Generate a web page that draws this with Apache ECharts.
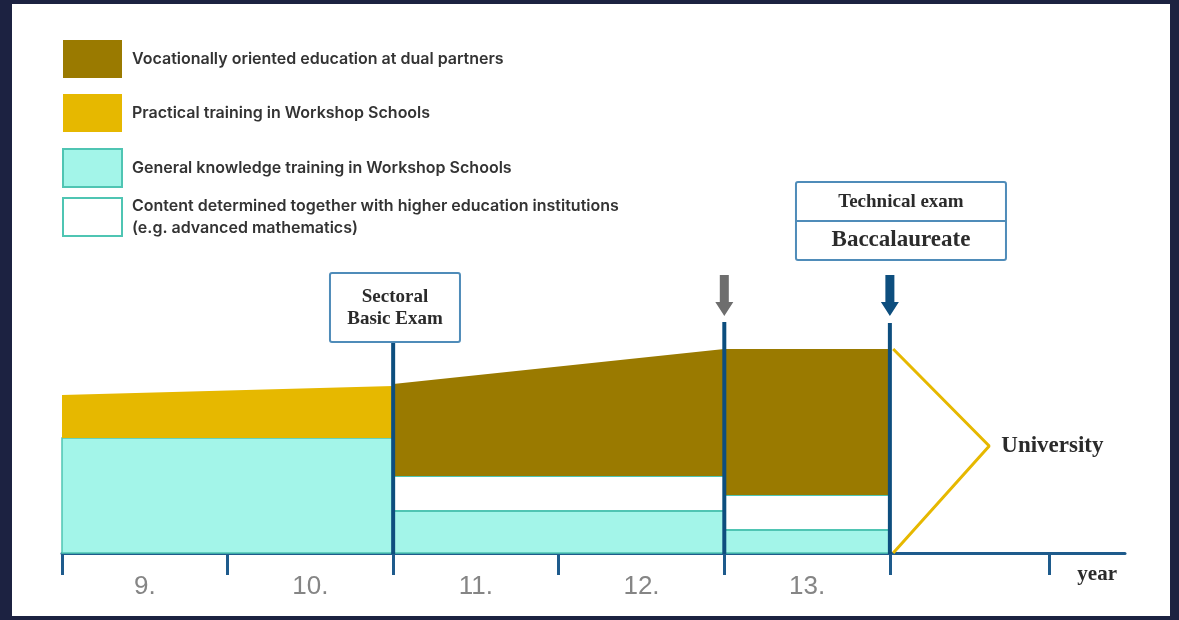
<!DOCTYPE html>
<html>
<head>
<meta charset="utf-8">
<script src="https://cdn.jsdelivr.net/npm/echarts@6/dist/echarts.min.js"></script>
<style>
  html, body { margin: 0; padding: 0; width: 1179px; height: 620px; background: #1c2241; overflow: hidden; }
  #panel { position: absolute; left: 12px; top: 4px; width: 1158px; height: 612px; background: #ffffff; }
  #chart { position: absolute; left: 0; top: 0; width: 1179px; height: 620px; }
</style>
</head>
<body>
<div id="panel"></div>
<div id="chart"></div>
<script>
// ---- data ----
const yearLabels = ['9.', '10.', '11.', '12.', '13.'];
const yearLabelPositions = [0.5, 1.5, 2.5, 3.5, 4.5];
const yearBoundaries = [0, 1, 2, 3, 4, 5, 5.96];

const seriesNames = [
  'Vocationally oriented education at dual partners',
  'Practical training in Workshop Schools',
  'General knowledge training in Workshop Schools',
  'Content determined together with higher education institutions (e.g. advanced mathematics)'
];
// segments: [xStart, xEnd, bottomStart, bottomEnd, topStart, topEnd]
const dualPartners = [[2, 4, 77, 77, 169, 204], [4, 5, 58, 58, 204, 204]];
const workshopPractical = [[0, 2, 115, 115, 158, 167]];
const workshopGeneral = [[0, 2, 0, 0, 115, 115], [2, 4, 0, 0, 42, 42], [4, 5, 0, 0, 23, 23]];
const higherEdContent = [[2, 4, 42, 42, 77, 77], [4, 5, 23, 23, 58, 58]];

const examLines = [[2, 213], [4, 231], [5, 230]];   // [year position, line top]
const examArrows = [[4, 278], [5, 278]];            // [year position, arrow top]
const examBoxes = [[2.011, 211], [5.067, 293]];     // [box centre, box bottom]
const examBoxTexts = [['Sectoral', 'Basic Exam'], ['Technical exam', 'Baccalaureate']];
const universityPath = [[5.02, 204], [5.6, 107], [5.02, 0]];
const universityLabel = 'University';

// ---- styles ----
const C = {
  brown: '#9a7a00', yellow: '#e6b800', cyan: '#a3f5e9', teal: '#4fc5b3',
  navy: '#0d4e7e', axis: '#1e5b8c', gray: '#6e6e6e', boxBorder: '#4f8cb9', text: '#2b2b2b'
};
const serif = '"Liberation Serif", "DejaVu Serif", serif';

function segRender(fill, stroke, lw) {
  return function (params, api) {
    const x0 = api.value(0), x1 = api.value(1);
    const pts = [
      api.coord([x0, api.value(2)]), api.coord([x1, api.value(3)]),
      api.coord([x1, api.value(5)]), api.coord([x0, api.value(4)])
    ];
    return { type: 'polygon', shape: { points: pts },
      style: { fill: fill, stroke: stroke || null, lineWidth: lw || 0 } };
  };
}
function segSeries(name, data, fill, stroke, lw, z) {
  return { type: 'custom', name: name, data: data, z: z,
    itemStyle: { color: fill }, renderItem: segRender(fill, stroke, lw), silent: true };
}

const legendText = { fontFamily: 'Inter, "Noto Sans", sans-serif', fontSize: 16, fontWeight: 600,
  color: '#333333', lineHeight: 22, padding: [0, 0, 0, 5] };
const legendItems = [
  { name: seriesNames[0], icon: 'rect', itemStyle: { color: C.brown, borderWidth: 0 } },
  { name: seriesNames[1], icon: 'rect', itemStyle: { color: C.yellow, borderWidth: 0 } },
  { name: seriesNames[2], icon: 'rect', itemStyle: { color: C.cyan, borderColor: C.teal, borderWidth: 2 } },
  { name: seriesNames[3], icon: 'rect', itemStyle: { color: '#ffffff', borderColor: C.teal, borderWidth: 2 } }
];

const chart = echarts.init(document.getElementById('chart'));
chart.setOption({
  backgroundColor: 'transparent',
  animation: false,
  grid: { left: 62, right: 54, top: 153, bottom: 67 },
  legend: [
    { orient: 'vertical', left: 62, top: 40, padding: 0, itemWidth: 59, itemHeight: 38, itemGap: 16,
      selectedMode: false, textStyle: legendText, data: legendItems.slice(0, 3) },
    { orient: 'vertical', left: 62, top: 195, padding: 0, itemWidth: 59, itemHeight: 38, itemGap: 16,
      selectedMode: false, textStyle: legendText, data: legendItems.slice(3),
      formatter: function (n) { return n.replace(' (e.g.', '\n(e.g.'); } }
  ],
  xAxis: {
    type: 'value', min: 0, max: 6.42,
    splitLine: { show: false },
    axisLine: { show: true, lineStyle: { color: C.axis, width: 3 } },
    axisTick: { show: true, length: 22, customValues: yearBoundaries, lineStyle: { color: C.axis, width: 3 } },
    axisLabel: {
      customValues: yearLabelPositions, margin: 21,
      fontFamily: '"Liberation Sans", Arial, sans-serif', fontSize: 26, color: '#858585',
      formatter: function (v) {
        const i = yearLabelPositions.findIndex(function (p) { return Math.abs(p - v) < 1e-6; });
        return i >= 0 ? yearLabels[i] : '';
      }
    },
    name: 'year', nameLocation: 'end', nameGap: -8,
    nameTextStyle: { fontFamily: serif, fontWeight: 'bold', fontSize: 21, color: C.text,
      align: 'right', verticalAlign: 'top', padding: [11, 0, 0, 0] }
  },
  yAxis: { type: 'value', min: 0, max: 400, show: false },
  series: [
    segSeries(seriesNames[2], workshopGeneral, C.cyan, C.teal, 1.5, 2),
    segSeries(seriesNames[3], higherEdContent, '#ffffff', C.teal, 2, 2),
    segSeries(seriesNames[1], workshopPractical, C.yellow, null, 0, 2),
    segSeries(seriesNames[0], dualPartners, C.brown, null, 0, 2),
    {
      type: 'line', name: 'university', data: universityPath.map(function (p, i) {
        return i === 1 ? { value: p, label: { show: true, position: 'right', distance: 12,
          formatter: universityLabel, fontFamily: serif, fontWeight: 'bold', fontSize: 23, color: C.text } } : { value: p };
      }),
      symbol: 'circle', symbolSize: 0.1, showSymbol: true, z: 3,
      lineStyle: { color: C.yellow, width: 3 }, itemStyle: { color: C.yellow }, silent: true
    },
    {
      type: 'custom', name: 'examLines', data: examLines, z: 5, silent: true,
      renderItem: function (params, api) {
        const a = api.coord([api.value(0), 0]), b = api.coord([api.value(0), api.value(1)]);
        return { type: 'line', shape: { x1: a[0], y1: a[1] + 1, x2: b[0], y2: b[1] },
          style: { stroke: C.navy, lineWidth: 4 } };
      }
    },
    {
      type: 'custom', name: 'examArrows', data: examArrows, z: 5, silent: true,
      renderItem: function (params, api) {
        const color = params.dataIndex === 0 ? C.gray : C.navy;
        const top = api.coord([api.value(0), api.value(1)]);
        const x = top[0], y = top[1];
        const shaftW = 9, headW = 18, shaftL = 27, headL = 14;
        return { type: 'polygon', shape: { points: [
          [x - shaftW / 2, y], [x + shaftW / 2, y], [x + shaftW / 2, y + shaftL], [x + headW / 2, y + shaftL],
          [x, y + shaftL + headL], [x - headW / 2, y + shaftL], [x - shaftW / 2, y + shaftL]
        ] }, style: { fill: color } };
      }
    },
    {
      type: 'custom', name: 'examBoxes', data: examBoxes, z: 6, silent: true,
      renderItem: function (params, api) {
        const p = api.coord([api.value(0), api.value(1)]);
        const t = examBoxTexts[params.dataIndex];
        const boxStyle = { fill: '#ffffff', stroke: C.boxBorder, lineWidth: 2 };
        if (params.dataIndex === 0) {
          const w = 130, h = 69, x = p[0] - w / 2, y = p[1] - h;
          return { type: 'group', children: [
            { type: 'rect', shape: { x: x, y: y, width: w, height: h, r: 2 }, style: boxStyle },
            { type: 'text', style: { x: p[0], y: y + 24, text: t[0], align: 'center', verticalAlign: 'middle',
              font: 'bold 19px ' + serif, fill: C.text } },
            { type: 'text', style: { x: p[0], y: y + 46, text: t[1], align: 'center', verticalAlign: 'middle',
              font: 'bold 19px ' + serif, fill: C.text } }
          ] };
        }
        const w = 210, h = 78, x = p[0] - w / 2, y = p[1] - h;
        return { type: 'group', children: [
          { type: 'rect', shape: { x: x, y: y, width: w, height: h, r: 2 }, style: boxStyle },
          { type: 'line', shape: { x1: x, y1: y + 39, x2: x + w, y2: y + 39 }, style: { stroke: C.boxBorder, lineWidth: 2 } },
          { type: 'text', style: { x: p[0], y: y + 20, text: t[0], align: 'center', verticalAlign: 'middle',
            font: 'bold 19px ' + serif, fill: C.text } },
          { type: 'text', style: { x: p[0], y: y + 58, text: t[1], align: 'center', verticalAlign: 'middle',
            font: 'bold 23px ' + serif, fill: C.text } }
        ] };
      }
    }
  ]
});
</script>
</body>
</html>
